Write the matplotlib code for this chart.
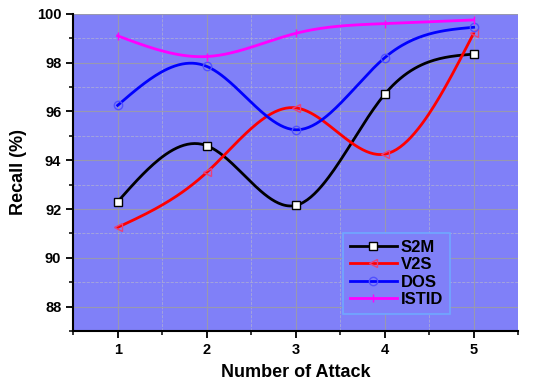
import matplotlib
matplotlib.use("Agg")
import matplotlib.pyplot as plt
import numpy as np
from matplotlib.ticker import MultipleLocator

plt.rcParams['font.family'] = ['Liberation Sans', 'DejaVu Sans']
plt.rcParams['font.weight'] = 'bold'

attacks = [1, 2, 3, 4, 5]
s2m = [92.3, 94.6, 92.15, 96.7, 98.35]
v2s = [91.25, 93.5, 96.15, 94.25, 99.2]
dos = [96.25, 97.85, 95.25, 98.2, 99.45]
istid = [99.1, 98.25, 99.2, 99.6, 99.75]


def spline(x, y, n=200):
    # natural cubic spline, only used to draw the smooth line through the points
    x = np.asarray(x, float)
    y = np.asarray(y, float)
    k = len(x)
    h = np.diff(x)
    A = np.zeros((k, k))
    b = np.zeros(k)
    A[0, 0] = A[-1, -1] = 1
    for i in range(1, k - 1):
        A[i, i - 1] = h[i - 1]
        A[i, i] = 2 * (h[i - 1] + h[i])
        A[i, i + 1] = h[i]
        b[i] = 6 * ((y[i + 1] - y[i]) / h[i] - (y[i] - y[i - 1]) / h[i - 1])
    M = np.linalg.solve(A, b)
    xs = np.linspace(x[0], x[-1], n)
    idx = np.clip(np.searchsorted(x, xs) - 1, 0, k - 2)
    x0, x1 = x[idx], x[idx + 1]
    hh = x1 - x0
    ys = (M[idx] * (x1 - xs) ** 3 / (6 * hh) + M[idx + 1] * (xs - x0) ** 3 / (6 * hh)
          + (y[idx] / hh - M[idx] * hh / 6) * (x1 - xs)
          + (y[idx + 1] / hh - M[idx + 1] * hh / 6) * (xs - x0))
    return xs, ys


fig = plt.figure(figsize=(5.5, 3.85), dpi=100)
ax = fig.add_axes([0.133, 0.14, 0.809, 0.824])
ax.set_facecolor('#8080f8')

series = [
    ("S2M", s2m, 'black', dict(marker='s', mfc='white', mec='black', ms=6, mew=1)),
    ("V2S", v2s, '#ff0000', dict(marker='<', mfc='none', mec='#e8407a', ms=6, mew=1)),
    ("DOS", dos, '#0000ff', dict(marker='o', mfc='none', mec='#5050ff', ms=6, mew=1)),
    ("ISTID", istid, '#ff00ff', dict(marker='|', mfc='none', mec='#ff00ff', ms=6, mew=1)),
]

for name, vals, col, mk in series:
    xs, ys = spline(attacks, vals)
    ax.plot(xs, ys, color=col, lw=2, zorder=3)
    ax.plot(attacks, vals, ls='none', zorder=4, **mk)
    ax.plot([], [], color=col, lw=2, label=name, **mk)

ax.set_xlim(0.5, 5.5)
ax.set_ylim(87, 100)
ax.xaxis.set_major_locator(MultipleLocator(1))
ax.xaxis.set_minor_locator(MultipleLocator(0.5))
ax.yaxis.set_minor_locator(MultipleLocator(1))
ax.set_yticks([88, 90, 92, 94, 96, 98, 100])

ax.grid(which='major', color='#9898b0', lw=0.8, zorder=1)
ax.grid(which='minor', color='#a8a8d8', lw=0.6, ls='--', zorder=1)
ax.set_axisbelow(True)

for s in ['top', 'right']:
    ax.spines[s].set_visible(False)
for s in ['left', 'bottom']:
    ax.spines[s].set_linewidth(1.5)

ax.tick_params(which='major', direction='out', length=5, width=1.3, labelsize=10.5)
ax.tick_params(which='minor', direction='out', length=3, width=1.1)

ax.set_xlabel("Number of Attack", fontsize=13, fontweight='bold', labelpad=5)
ax.set_ylabel("Recall (%)", fontsize=13, fontweight='bold', labelpad=7)

leg = ax.legend(loc='upper left', bbox_to_anchor=(0.607, 0.309),
                fontsize=12, frameon=True, fancybox=False, borderaxespad=0,
                handlelength=2.8, handletextpad=0.25, borderpad=0.4, labelspacing=0.15)
leg.get_frame().set_facecolor('#8080f8')
leg.get_frame().set_edgecolor('#70a8ff')
leg.get_frame().set_alpha(1)
leg.get_frame().set_linewidth(1.2)

fig.savefig("out.png", dpi=100)
